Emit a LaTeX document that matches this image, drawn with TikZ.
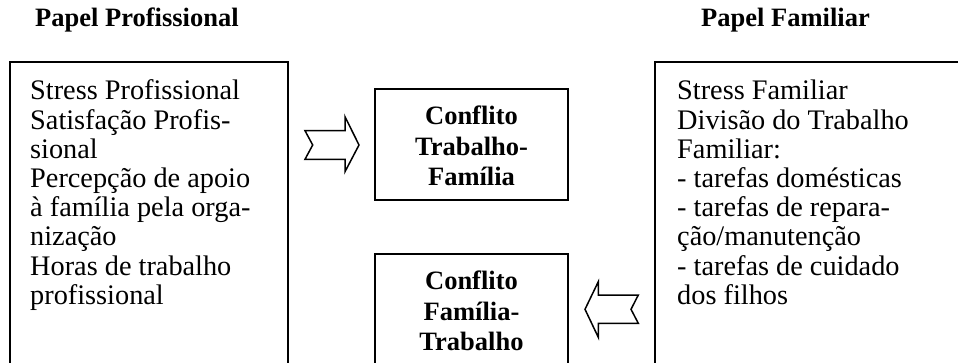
\documentclass[tikz,border=0pt]{standalone}
\usepackage{fontspec}
\setmainfont{Liberation Serif}
\begin{document}
\begin{tikzpicture}[x=1pt,y=-1pt,
  boxframe/.style={draw, line width=1.9pt, inner sep=0pt, outer sep=0pt, anchor=north west},
  bodytext/.style={anchor=base west, inner sep=0pt, font=\fontsize{28.3}{29.2}\selectfont},
  boldtext/.style={anchor=base, inner sep=0pt, font=\fontsize{26.5}{30.5}\selectfont\bfseries},
  titletext/.style={anchor=base west, inner sep=0pt, font=\fontsize{26.5}{30.5}\selectfont\bfseries},
  blockarrow/.style={draw, line width=1.5pt, fill=white, line join=miter}]
\useasboundingbox (0,0) rectangle (958,363);
\clip (0,0) rectangle (958,363);

% titles
\node[titletext] (proftitle) at (35,27) {Papel Profissional};
\node[titletext] (famtitle) at (701,27) {Papel Familiar};

% boxes
\node[boxframe, minimum width=278pt, minimum height=340pt] (profbox) at (10,62) {};
\node[boxframe, minimum width=330pt, minimum height=340pt] (fambox) at (655,62) {};
\node[boxframe, minimum width=193pt, minimum height=111pt] (tfbox) at (375,89) {};
\node[boxframe, minimum width=193pt, minimum height=140pt] (ftbox) at (375,254) {};

% box texts
\node[bodytext] (proftext) at (30,100) {\parbox[t]{240pt}{\raggedright
  Stress Profissional\\
  Satisfação Profis-\\
  sional\\
  Percepção de apoio\\
  à família pela orga-\\
  nização\\
  Horas de trabalho\\
  profissional}};
\node[bodytext] (famtext) at (677,100) {\parbox[t]{270pt}{\raggedright
  Stress Familiar\\
  Divisão do Trabalho\\
  Familiar:\\
  - tarefas domésticas\\
  - tarefas de repara-\\
  ção/manutenção\\
  - tarefas de cuidado\\
  dos filhos}};
\node[boldtext] (tftext) at (471.5,125) {\parbox[t]{190pt}{\centering
  Conflito\\ Trabalho-\\ Família}};
\node[boldtext] (fttext) at (471.5,290) {\parbox[t]{190pt}{\centering
  Conflito\\ Família-\\ Trabalho}};

% block arrows
\coordinate (tftip) at (359,145);
\coordinate (fttip) at (585,309.3);
\draw[blockarrow] (305,130.7) -- (345,130.7) -- (345,116.7) -- (tftip)
  -- (345,171.7) -- (345,159.3) -- (305,159.3) -- (312.7,145) -- cycle;
\draw[blockarrow] (638.3,295) -- (598.3,295) -- (598.3,281.7) -- (fttip)
  -- (598.3,337.3) -- (598.3,323.3) -- (638.3,323.3) -- (631,309.3) -- cycle;
\end{tikzpicture}
\end{document}
